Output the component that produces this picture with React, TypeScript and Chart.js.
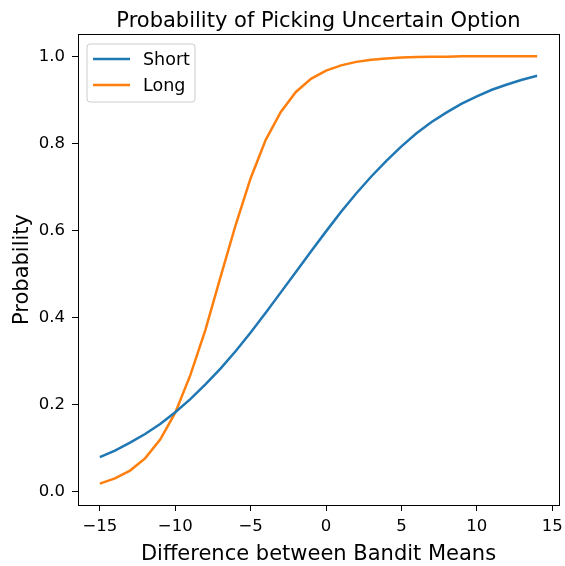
import React, { useEffect, useRef } from "react";
import { Chart, registerables } from "chart.js";

Chart.register(...registerables);

const xValues = [-15, -14, -13, -12, -11, -10, -9, -8, -7, -6, -5, -4, -3, -2, -1, 0, 1, 2, 3, 4, 5, 6, 7, 8, 9, 10, 11, 12, 13, 14];
const shortValues = [0.08, 0.095, 0.113, 0.133, 0.156, 0.183, 0.213, 0.247, 0.283, 0.323, 0.366, 0.411, 0.458, 0.505, 0.552, 0.598, 0.643, 0.685, 0.724, 0.76, 0.793, 0.823, 0.849, 0.871, 0.891, 0.908, 0.923, 0.935, 0.946, 0.955];
const longValues = [0.019, 0.031, 0.049, 0.077, 0.12, 0.182, 0.268, 0.372, 0.493, 0.612, 0.72, 0.808, 0.872, 0.918, 0.948, 0.967, 0.979, 0.987, 0.992, 0.995, 0.997, 0.998, 0.999, 0.999, 1.0, 1.0, 1.0, 1.0, 1.0, 1.0];
const xTicks = [-15, -10, -5, 0, 5, 10, 15];
const yTicks = [0, 0.2, 0.4, 0.6, 0.8, 1.0];
const seriesNames = ["Short", "Long"];
const seriesColors = ["#1f77b4", "#ff7f0e"];
const titleText = "Probability of Picking Uncertain Option";
const xLabel = "Difference between Bandit Means";
const yLabel = "Probability";

const FONT = "'DejaVu Sans', sans-serif";

export default function App() {
  const ref = useRef<HTMLCanvasElement | null>(null);
  useEffect(() => {
    document.body.style.margin = "0";
    const canvas = ref.current!;
    const decor = {
      id: "decor",
      afterDraw(chart: any) {
        const ctx = chart.ctx;
        const a = chart.chartArea;
        ctx.save();
        ctx.strokeStyle = "#000";
        ctx.lineWidth = 1;
        ctx.strokeRect(Math.round(a.left) + 0.5, Math.round(a.top) + 0.5, Math.round(a.right - a.left), Math.round(a.bottom - a.top));
        ctx.fillStyle = "#000";
        ctx.textAlign = "center";
        ctx.textBaseline = "alphabetic";
        ctx.font = `21px ${FONT}`;
        ctx.fillText(titleText, (a.left + a.right) / 2, 27);
        ctx.fillText(xLabel, (a.left + a.right) / 2, 560);
        ctx.save();
        ctx.translate(28, (a.top + a.bottom) / 2);
        ctx.rotate(-Math.PI / 2);
        ctx.fillText(yLabel, 0, 0);
        ctx.restore();
        // legend
        const lx = a.left + 9;
        const ly = a.top + 10;
        const lw = 108;
        const lh = 58;
        ctx.beginPath();
        const r = 3;
        ctx.moveTo(lx + r, ly);
        ctx.arcTo(lx + lw, ly, lx + lw, ly + lh, r);
        ctx.arcTo(lx + lw, ly + lh, lx, ly + lh, r);
        ctx.arcTo(lx, ly + lh, lx, ly, r);
        ctx.arcTo(lx, ly, lx + lw, ly, r);
        ctx.closePath();
        ctx.fillStyle = "rgba(255,255,255,0.8)";
        ctx.fill();
        ctx.strokeStyle = "#cccccc";
        ctx.stroke();
        ctx.font = `17.5px ${FONT}`;
        ctx.textAlign = "left";
        ctx.textBaseline = "middle";
        seriesNames.forEach((name, i) => {
          const y = ly + 15 + i * 26;
          ctx.strokeStyle = seriesColors[i];
          ctx.lineWidth = 2.5;
          ctx.beginPath();
          ctx.moveTo(lx + 6, y);
          ctx.lineTo(lx + 43, y);
          ctx.stroke();
          ctx.fillStyle = "#000";
          ctx.fillText(name, lx + 56, y + 1);
        });
        ctx.restore();
      },
    };
    const chart = new Chart(canvas, {
      type: "line",
      data: {
        datasets: [
          {
            label: seriesNames[0],
            data: xValues.map((x, i) => ({ x, y: shortValues[i] })),
            borderColor: seriesColors[0],
            borderWidth: 2.5,
            pointRadius: 0,
            tension: 0,
            fill: false,
          },
          {
            label: seriesNames[1],
            data: xValues.map((x, i) => ({ x, y: longValues[i] })),
            borderColor: seriesColors[1],
            borderWidth: 2.5,
            pointRadius: 0,
            tension: 0,
            fill: false,
          },
        ],
      },
      options: {
        animation: false,
        responsive: false,
        devicePixelRatio: 1,
        layout: { padding: { top: 34, right: 6, left: 0, bottom: 0 } },
        plugins: { legend: { display: false }, title: { display: false }, tooltip: { enabled: false } },
        scales: {
          x: {
            type: "linear",
            min: -16.45,
            max: 15.45,
            afterBuildTicks: (s: any) => {
              s.ticks = xTicks.map((v) => ({ value: v }));
            },
            afterFit: (s: any) => {
              s.height = 61;
              s.paddingRight = 0;
              s.paddingLeft = 0;
            },
            grid: { drawOnChartArea: false, drawTicks: true, tickLength: 6, color: "#000", tickWidth: 1 },
            border: { display: true, color: "#000" },
            ticks: {
              color: "#000",
              font: { family: FONT, size: 16.5 },
              padding: 6,
              maxRotation: 0,
              autoSkip: false,
              callback: (v: any) => String(v).replace("-", "\u2212"),
            },
          },
          y: {
            type: "linear",
            min: -0.03,
            max: 1.051,
            afterBuildTicks: (s: any) => {
              s.ticks = yTicks.map((v) => ({ value: v }));
            },
            afterFit: (s: any) => {
              s.width = 78;
              s.paddingTop = 0;
              s.paddingBottom = 0;
            },
            grid: { drawOnChartArea: false, drawTicks: true, tickLength: 6, color: "#000", tickWidth: 1 },
            border: { display: true, color: "#000" },
            ticks: {
              color: "#000",
              font: { family: FONT, size: 16.5 },
              padding: 7,
              autoSkip: false,
              callback: (v: any) => Number(v).toFixed(1),
            },
          },
        },
      },
      plugins: [decor],
    });
    return () => chart.destroy();
  }, []);
  return (
    <div style={{ position: "absolute", left: 0, top: 0, width: 565, height: 566, background: "#fff" }}>
      <canvas ref={ref} width={565} height={566} style={{ display: "block" }} />
    </div>
  );
}
